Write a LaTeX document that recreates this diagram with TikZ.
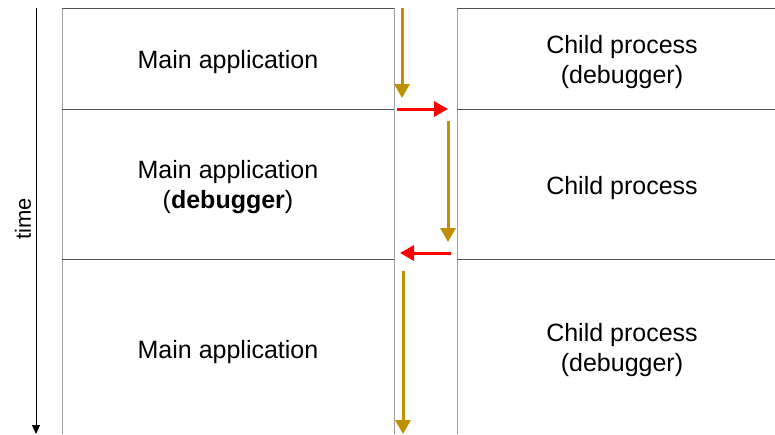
\documentclass[tikz,border=0pt]{standalone}
\usepackage{fontspec}
\setmainfont{Liberation Sans}
\usetikzlibrary{arrows.meta}
\definecolor{flowgold}{HTML}{BF9000}
\definecolor{flowred}{HTML}{FF0000}
\definecolor{sepgrey}{HTML}{A0A0A0}
\definecolor{rowgrey}{HTML}{505050}
\tikzset{
  label/.style={font=\fontsize{25}{30}\selectfont, align=center, inner sep=0pt},
  colline/.style={draw=sepgrey, line width=1pt},
  rowline/.style={draw=rowgrey, line width=1pt},
  runflow/.style={draw=flowgold, line width=3pt, -{Triangle[width=15pt,length=14pt]}},
  handover/.style={draw=flowred, line width=3pt, -{Triangle[width=15pt,length=14pt]}},
}
\begin{document}
\begin{tikzpicture}[x=1pt,y=-1pt]
\useasboundingbox (0,0) rectangle (775,434);

% column borders
\draw[colline] (62,8) -- (62,434);
\draw[colline] (394,8) -- (394,434);
\draw[colline] (457,8) -- (457,434);

% row borders
\foreach \y in {8,109,259} {
  \draw[rowline] (62,\y) -- (394,\y);
  \draw[rowline] (457,\y) -- (775,\y);
}

% time axis
\coordinate (t0) at (36,8);
\coordinate (t1) at (36,434);
\draw[line width=1pt, -{Triangle[width=8pt,length=9pt]}] (t0) -- (t1);
\node[label, font=\fontsize{22}{26}\selectfont, rotate=90] (time) at (23,219) {time};

% phase labels
\node[label] (m1) at (228,62) {Main application};
\node[label] (c1) at (622,62) {Child process\\(debugger)};
\node[label] (m2) at (228,187) {Main application\\(\textbf{debugger})};
\node[label] (c2) at (622,188) {Child process};
\node[label] (m3) at (228,352) {Main application};
\node[label] (c3) at (622,350) {Child process\\(debugger)};

% execution flow
\coordinate (a1s) at (402,8);
\coordinate (a1e) at (402,98);
\coordinate (r1s) at (397,109);
\coordinate (r1e) at (448,109);
\coordinate (a2s) at (448,121);
\coordinate (a2e) at (448,242);
\coordinate (r2s) at (451,253);
\coordinate (r2e) at (400,253);
\coordinate (a3s) at (403,271);
\coordinate (a3e) at (403,434);

\draw[runflow] (a1s) -- (a1e);
\draw[handover] (r1s) -- (r1e);
\draw[runflow] (a2s) -- (a2e);
\draw[handover] (r2s) -- (r2e);
\draw[runflow] (a3s) -- (a3e);
\end{tikzpicture}
\end{document}
